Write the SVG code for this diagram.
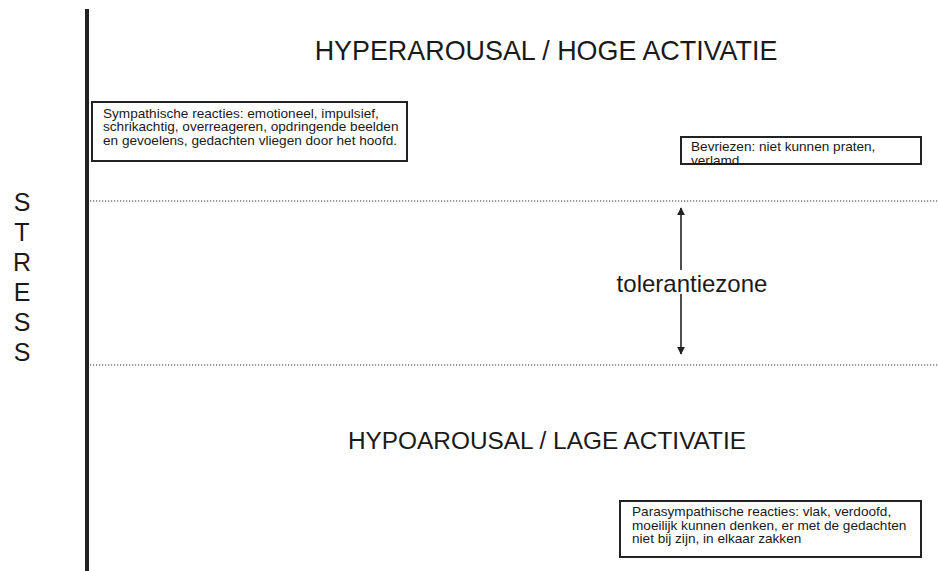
<svg xmlns="http://www.w3.org/2000/svg" width="938" height="571" viewBox="0 0 938 571">
<style>
text{font-family:"Liberation Sans",Arial,sans-serif;fill:#1a1a1a}
.title{text-anchor:middle}
.axis{font-size:25px;text-anchor:middle}
.small{font-size:13.6px}
.box{fill:#fff;stroke:#222;stroke-width:2}
.dot{stroke:#333;stroke-width:1.2;stroke-dasharray:1.2 1.8;fill:none}
.arr{stroke:#222;stroke-width:1.6;fill:none}
</style>
<defs>
<marker id="ah" viewBox="0 0 10 10" refX="9" refY="5" markerWidth="5" markerHeight="5" orient="auto" markerUnits="strokeWidth">
<path d="M0,0 L10,5 L0,10 z" fill="#222"/>
</marker>
</defs>
<rect width="938" height="571" fill="#fff"/>
<g id="axis">
<line x1="87" y1="9" x2="87" y2="571" stroke="#222" stroke-width="4"/>
<text class="axis" x="22" y="211">S</text>
<text class="axis" x="22" y="241">T</text>
<text class="axis" x="22" y="271">R</text>
<text class="axis" x="22" y="301">E</text>
<text class="axis" x="22" y="331">S</text>
<text class="axis" x="22" y="361">S</text>
</g>
<g id="zones">
<line class="dot" x1="90" y1="201" x2="938" y2="201"/>
<line class="dot" x1="90" y1="365" x2="938" y2="365"/>
<text class="title" x="546" y="60" font-size="26.9">HYPERAROUSAL / HOGE ACTIVATIE</text>
<text class="title" x="547" y="449" font-size="24.4">HYPOAROUSAL / LAGE ACTIVATIE</text>
<text x="692" y="292" font-size="24" text-anchor="middle">tolerantiezone</text>
</g>
<g id="connectors">
<line class="arr" x1="681" y1="270" x2="681" y2="208" marker-end="url(#ah)"/>
<line class="arr" x1="681" y1="294" x2="681" y2="354" marker-end="url(#ah)"/>
</g>
<g id="sympathisch">
<rect class="box" x="92" y="102" width="315" height="59"/>
<text class="small" x="103" y="117.5">Sympathische reacties: emotioneel, impulsief,</text>
<text class="small" x="103" y="131">schrikachtig, overreageren, opdringende beelden</text>
<text class="small" x="103" y="144.5">en gevoelens, gedachten vliegen door het hoofd.</text>
</g>
<g id="bevriezen">
<rect class="box" x="681" y="137" width="240" height="27"/>
<text class="small" x="691" y="151">Bevriezen: niet kunnen praten,</text>
<text class="small" x="691" y="164.5">verlamd</text>
</g>
<g id="parasympathisch">
<rect class="box" x="620" y="501" width="301" height="56"/>
<text class="small" x="632" y="516">Parasympathische reacties: vlak, verdoofd,</text>
<text class="small" x="632" y="529.5">moeilijk kunnen denken, er met de gedachten</text>
<text class="small" x="632" y="543">niet bij zijn, in elkaar zakken</text>
</g>
</svg>
